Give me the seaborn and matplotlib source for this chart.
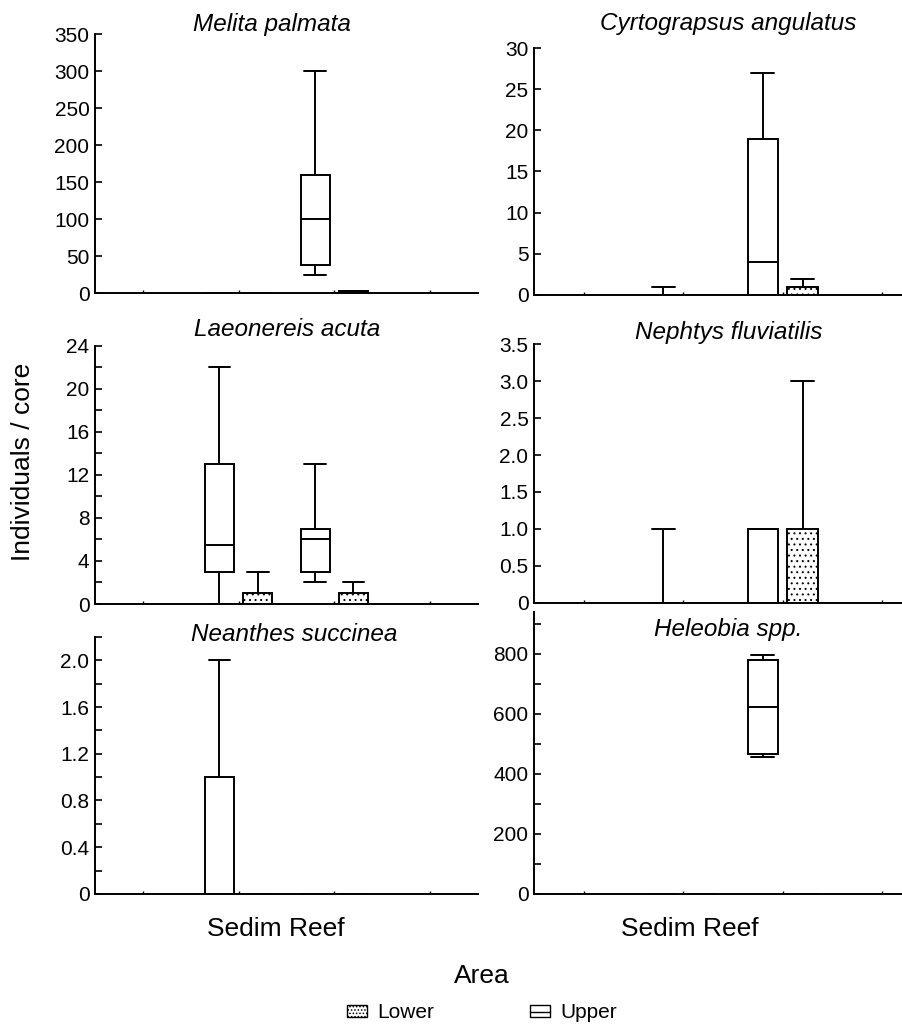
import numpy as np
import pandas as pd
import matplotlib
matplotlib.use("Agg")
import matplotlib.pyplot as plt
from matplotlib.patches import Patch
from matplotlib.lines import Line2D
from matplotlib.ticker import MultipleLocator, FuncFormatter
import seaborn as sns

# Style
sns.set_style('ticks')
plt.rcParams['font.family'] = ['Liberation Sans', 'DejaVu Sans']
plt.rcParams['hatch.linewidth'] = 0.7
for key in ['text.color', 'axes.labelcolor', 'xtick.color', 'ytick.color', 'axes.edgecolor']:
    plt.rcParams[key] = 'black'

# Groups in drawing order: (area, position)
areas = ['Sedim', 'Reef']
levels = ['Upper', 'Lower']
groups = [('Sedim', 'Upper'), ('Sedim', 'Lower'), ('Reef', 'Upper'), ('Reef', 'Lower')]

species = ['Melita palmata', 'Cyrtograpsus angulatus', 'Laeonereis acuta',
           'Nephtys fluviatilis', 'Neanthes succinea', 'Heleobia spp.']

# Five-number summaries (min, q1, median, q3, max),
# one list per group in the order of `groups`
melita = [[0, 0, 0, 0, 0], [0, 0, 0, 0, 0], [25, 38, 100, 160, 300], [0, 0, 0, 3, 3]]
cyrtograpsus = [[0, 0, 0, 0, 1], [0, 0, 0, 0, 0], [0, 0, 4, 19, 27], [0, 0, 0, 1, 2]]
laeonereis = [[0, 3, 5.5, 13, 22], [0, 0, 0, 1, 3], [2, 3, 6, 7, 13], [0, 0, 0, 1, 2]]
nephtys = [[0, 0, 0, 0, 1], [0, 0, 0, 0, 0], [0, 0, 1, 1, 1], [0, 0, 0, 1, 3]]
neanthes = [[0, 0, 0, 1, 2], [0, 0, 0, 0, 0], [0, 0, 0, 0, 0], [0, 0, 0, 0, 0]]
heleobia = [[0, 0, 0, 0, 0], [0, 0, 0, 0, 0], [456, 466, 622, 780, 797], [0, 0, 0, 0, 0]]

# Axis settings per panel
y_max = [350, 30, 24, 3.5, 2.2, 940]
y_major = [50, 5, 4, 0.5, 0.4, 200]
y_minor = [None, None, 2, None, 0.2, 100]
y_decimals = [0, 0, 0, 1, 1, 0]

# Build the long-form table
rows = []
for name, summaries in zip(species, [melita, cyrtograpsus, laeonereis,
                                     nephtys, neanthes, heleobia]):
    for (area, pos), vals in zip(groups, summaries):
        for v in vals:
            rows.append({'species': name, 'area': area, 'position': pos, 'value': v})
df = pd.DataFrame(rows)

fig = plt.figure(figsize=(9.02, 10.26), dpi=100)

# panel rectangles (figure fractions)
rects = [
    [0.1053, 0.7144, 0.4246, 0.2524],
    [0.592, 0.7125, 0.408, 0.2407],
    [0.1053, 0.4113, 0.4246, 0.2518],
    [0.592, 0.4123, 0.408, 0.2524],
    [0.1053, 0.1287, 0.4246, 0.2505],
    [0.592, 0.1287, 0.408, 0.2749],
]
title_pos = [(272, 31), (728, 30), (287, 336), (729, 339), (294, 641), (728, 636)]

for i, name in enumerate(species):
    ax = fig.add_axes(rects[i])
    sub = df[df['species'] == name]
    sns.boxplot(data=sub, x='area', y='value', hue='position',
                order=areas, hue_order=levels,
                palette={'Upper': 'white', 'Lower': 'white'},
                linecolor='black', linewidth=1.4, width=0.8, gap=0.24,
                whis=(0, 100), showfliers=False, legend=False, ax=ax)

    # dotted fill for the Lower boxes (right-hand box of each pair), wider caps
    for cont in ax.containers:
        for box in getattr(cont, 'boxes', []):
            xs = box.get_path().vertices[:4, 0]
            cx = xs.mean()
            if cx - round(cx) > 0:
                box.set_hatch('...')
            half = 0.75 * (xs.max() - xs.min()) / 2
            for cap in getattr(cont, 'caps', []):
                cxd = np.asarray(cap.get_xdata(), dtype=float)
                if abs(cxd.mean() - cx) < 1e-6:
                    cap.set_xdata([cx - half, cx + half])

    sns.despine(ax=ax)
    for s in ax.spines.values():
        s.set_linewidth(1.4)

    right_col = (i % 2 == 1)
    ax.set_xlim(-1.5, 2.2 if right_col else 2.5)
    ax.set_xticks([-1, 0, 1, 2], labels=['', '', '', ''])
    ax.tick_params(axis='x', direction='in', length=2.5, width=1)

    ax.set_ylim(0, y_max[i])
    ax.yaxis.set_major_locator(MultipleLocator(y_major[i]))
    if y_minor[i]:
        ax.yaxis.set_minor_locator(MultipleLocator(y_minor[i]))
    dec = y_decimals[i]
    ax.yaxis.set_major_formatter(FuncFormatter(
        lambda v, p, d=dec: '0' if abs(v) < 1e-9 else f'{v:.{d}f}'))
    ax.tick_params(axis='y', which='both', direction='in', length=5,
                   width=1.2, pad=4, labelsize=15)
    ax.set_ylabel('')
    ax.set_xlabel('')

    if i >= 4:
        ax.set_xlabel('Sedim Reef', fontsize=19)
        if right_col:
            ax.xaxis.set_label_coords(0.424, -0.0816)
        else:
            ax.xaxis.set_label_coords(0.4726, -0.0895)
        ax.xaxis.label.set_va('top')

    tx, ty = title_pos[i]
    fig.text(tx / 902, 1 - ty / 1026, name, style='italic', ha='center',
             va='baseline', fontsize=17.5)

fig.text(23 / 902, 1 - 462 / 1026, 'Individuals / core', rotation=90,
         ha='center', va='center', fontsize=19)
fig.text(482 / 902, 1 - 983 / 1026, 'Area', ha='center', va='baseline', fontsize=19)

# legend: Lower = dotted box, Upper = plain box with median line
lower_h = Patch(facecolor='white', edgecolor='black', hatch='.....')
upper_h = (Patch(facecolor='white', edgecolor='black'),
           Line2D([], [], color='black', linewidth=1.0))
fig.legend(handles=[lower_h, upper_h], labels=['Lower', 'Upper'],
           loc='center', bbox_to_anchor=(0.534, 0.0127), ncol=2,
           frameon=False, fontsize=15, handlelength=0.95, handleheight=0.45,
           handletextpad=0.5, columnspacing=4.6)

fig.savefig('out.png', dpi=100)
